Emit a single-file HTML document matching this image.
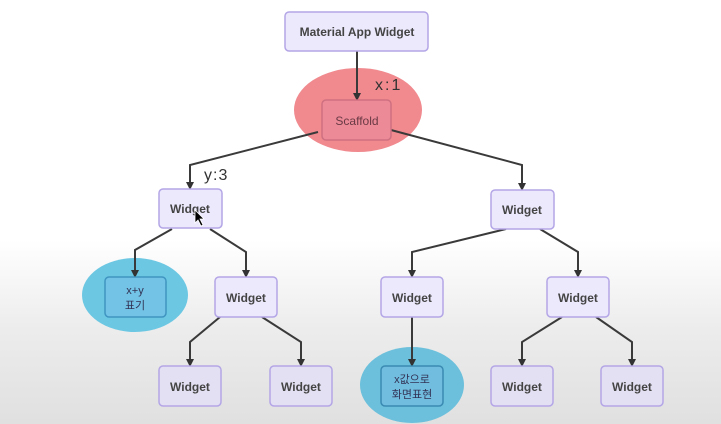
<!DOCTYPE html>
<html><head><meta charset="utf-8"><style>
body{margin:0;width:721px;height:424px;overflow:hidden;background:linear-gradient(#fff 0,#fff 240px,#ececec 330px,#e0e0e0 424px);font-family:"Liberation Sans","Noto Sans CJK KR",sans-serif}
</style></head><body>
<svg width="721" height="424" xmlns="http://www.w3.org/2000/svg" style="position:absolute;left:0;top:0">
<defs><marker id="a" markerWidth="8" markerHeight="8" refX="7" refY="4" orient="auto" markerUnits="userSpaceOnUse"><path d="M0,0L8,4L0,8z" fill="#333"/></marker></defs>
<ellipse cx="358" cy="110" rx="64" ry="42" fill="#f08a8f"/>
<ellipse cx="135" cy="295" rx="53" ry="37" fill="#6cc7e3"/>
<ellipse cx="412" cy="385" rx="52" ry="38" fill="#6cc0db"/>
<g fill="none" stroke="#3a3a3a" stroke-width="2" marker-end="url(#a)">
<path d="M357,51V100"/>
<path d="M318,132L190,165V189"/>
<path d="M391,130L522,165V190"/>
<path d="M172,229L135,250V277"/>
<path d="M210,229L246,252V277"/>
<path d="M506,229L412,252V277"/>
<path d="M540,229L578,252V277"/>
<path d="M220,317L190,342V366"/>
<path d="M262,317L301,342V366"/>
<path d="M412,317V366"/>
<path d="M562,317L522,342V366"/>
<path d="M596,317L632,342V366"/>
</g>
<g stroke="#b4a6e6" stroke-width="1.5" fill="#ece9fd">
<rect x="285" y="12" width="143" height="39" rx="4"/>
<rect x="159" y="189" width="63" height="39" rx="4"/>
<rect x="491" y="190" width="63" height="39" rx="4"/>
<rect x="215" y="277" width="62" height="40" rx="4"/>
<rect x="381" y="277" width="62" height="40" rx="4"/>
<rect x="547" y="277" width="62" height="40" rx="4"/>
<rect x="159" y="366" width="62" height="40" rx="4" fill="#e4e0f3"/>
<rect x="270" y="366" width="62" height="40" rx="4" fill="#e4e0f3"/>
<rect x="491" y="366" width="62" height="40" rx="4" fill="#e4e0f3"/>
<rect x="601" y="366" width="62" height="40" rx="4" fill="#e4e0f3"/>
</g>
<rect x="322" y="100" width="69" height="40" rx="4" fill="#ec8a98" stroke="#cf7080" stroke-width="1.5"/>
<rect x="105" y="277" width="61" height="40" rx="4" fill="#72c3e6" stroke="#3f95c0" stroke-width="1.5"/>
<rect x="381" y="366" width="62" height="40" rx="4" fill="#70bde0" stroke="#3a8ab3" stroke-width="1.5"/>
<g font-size="12" font-weight="bold" fill="#444" text-anchor="middle">
<text x="357" y="36">Material App Widget</text>
<text x="357" y="125" fill="#6a3a44" font-weight="normal">Scaffold</text>
<text x="190" y="213">Widget</text>
<text x="522" y="214">Widget</text>
<text x="246" y="302">Widget</text>
<text x="412" y="302">Widget</text>
<text x="578" y="302">Widget</text>
<text x="190" y="391">Widget</text>
<text x="301" y="391">Widget</text>
<text x="522" y="391">Widget</text>
<text x="632" y="391">Widget</text>
<text x="135" y="294" font-size="11" font-weight="normal" fill="#335">x+y</text>
<text x="135" y="309" font-size="11" font-weight="normal" fill="#335">표기</text>
<text x="412" y="383" font-size="11" font-weight="normal" fill="#335">x값으로</text>
<text x="412" y="398" font-size="11" font-weight="normal" fill="#335">화면표현</text>
</g>
<text x="375" y="90" font-size="16" fill="#333" letter-spacing="2">x:1</text>
<text x="204" y="180" font-size="16" fill="#333" letter-spacing="1">y:3</text>
<path d="M195,210l0,13l3,-3l3,6l2,-1l-3,-6l4,0z" fill="#000" stroke="#fff" stroke-width="0.8"/>
</svg>
</body></html>
